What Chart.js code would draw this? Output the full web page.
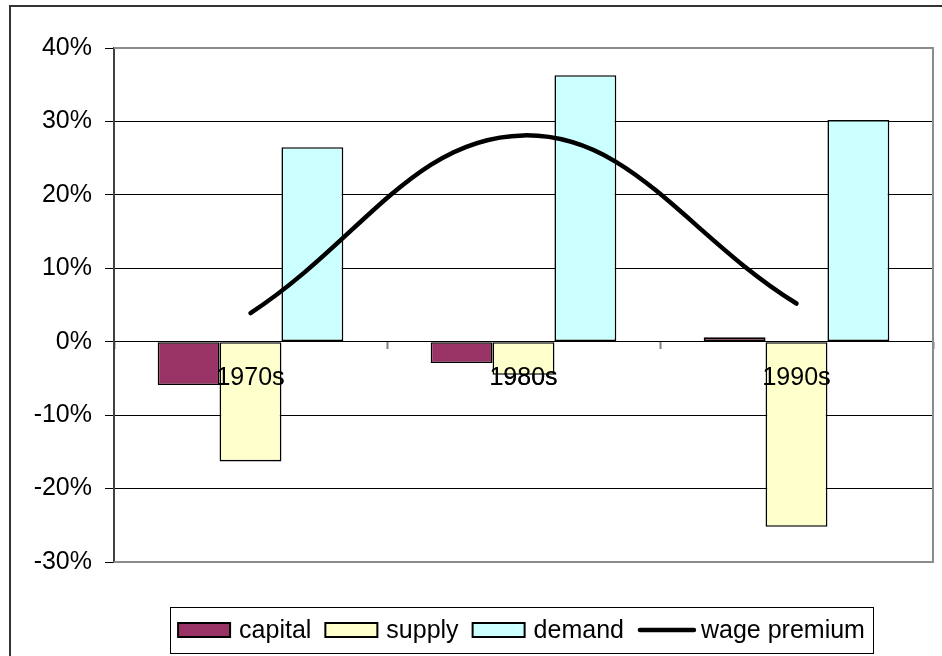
<!DOCTYPE html>
<html>
<head>
<meta charset="utf-8">
<script src="https://cdn.jsdelivr.net/npm/chart.js@4/dist/chart.umd.min.js"></script>
<style>
  html, body { margin: 0; padding: 0; background: #fff; }
  canvas { display: block; }
</style>
</head>
<body>
<canvas id="chart" width="942" height="656"></canvas>
<script>
// values, in percent
const categories = ['1970s', '1980s', '1990s'];
const capital = [-5.9, -2.9, 0.6];
const supply = [-16.3, -4.5, -25.2];
const demand = [26.5, 36.3, 30.2];
const wagePremium = [3.9, 28.1, 5.2];
const yMin = -30, yMax = 40, yStep = 10;

const FONT = '"Liberation Sans", Arial, sans-serif';

// frame around the plot area (top/right/bottom gray) and outer chart border
const framePlugin = {
  id: 'frame',
  beforeDatasetsDraw(chart) {
    const { ctx, chartArea: a } = chart;
    ctx.save();
    ctx.strokeStyle = '#8c8c8c';
    ctx.lineWidth = 2;
    ctx.beginPath();
    ctx.moveTo(a.left, a.top);
    ctx.lineTo(a.right, a.top);
    ctx.lineTo(a.right, a.bottom);
    ctx.lineTo(a.left, a.bottom);
    ctx.stroke();
    ctx.restore();
  },
  // category labels sit on top of the bars in the original
  afterDatasetsDraw(chart) {
    chart.scales.x.drawLabels(chart.chartArea);
  },
  afterDraw(chart) {
    const { ctx } = chart;
    ctx.save();
    ctx.strokeStyle = '#333';
    ctx.lineWidth = 2;
    ctx.strokeRect(10, 6, chart.width + 20, chart.height + 20);
    ctx.restore();
  }
};

// boxed legend below the plot, centred on the plot area
const boxLegend = {
  id: 'boxLegend',
  afterDraw(chart) {
    const { ctx, chartArea: a } = chart;
    const sets = chart.data.datasets;
    ctx.save();
    ctx.font = '25px ' + FONT;
    const items = sets.map(ds => ({
      ds,
      sw: ds.type === 'line' ? 58 : 52,
      gap: ds.type === 'line' ? 5 : 9,
      tw: ctx.measureText(ds.label).width
    }));
    const between = 14;
    const total = items.reduce((s, it) => s + it.sw + it.gap + it.tw, 0) + between * (items.length - 1);
    const cx = (a.left + a.right) / 2 - 2;
    const cy = a.bottom + 68;
    const padX = 8, h = 46;
    ctx.strokeStyle = '#000';
    ctx.lineWidth = 1;
    ctx.strokeRect(Math.round(cx - total / 2 - padX) + 0.5, Math.round(cy - h / 2) + 0.5, Math.round(total + 2 * padX), h);

    let x = cx - total / 2;
    ctx.textBaseline = 'middle';
    ctx.textAlign = 'left';
    items.forEach(it => {
      const ds = it.ds;
      if (ds.type === 'line') {
        ctx.strokeStyle = ds.borderColor;
        ctx.lineWidth = ds.borderWidth;
        ctx.lineCap = 'round';
        ctx.beginPath();
        ctx.moveTo(x + 2, cy);
        ctx.lineTo(x + it.sw - 2, cy);
        ctx.stroke();
      } else {
        ctx.fillStyle = ds.backgroundColor;
        ctx.fillRect(x, cy - 7, it.sw, 14);
        ctx.strokeStyle = '#000';
        ctx.lineWidth = 2;
        ctx.strokeRect(x, cy - 7, it.sw, 14);
      }
      x += it.sw + it.gap;
      ctx.fillStyle = '#000';
      ctx.fillText(ds.label, x, cy + 1);
      x += it.tw + between;
    });
    ctx.restore();
  }
};

const barStyle = { borderColor: '#000', borderWidth: 1.6, borderSkipped: false, order: 1 };

new Chart(document.getElementById('chart'), {
  type: 'bar',
  data: {
    labels: categories,
    datasets: [
      { label: 'capital', data: capital, backgroundColor: '#993366', ...barStyle },
      { label: 'supply', data: supply, backgroundColor: '#FFFFCC', ...barStyle },
      { label: 'demand', data: demand, backgroundColor: '#CCFFFF', ...barStyle },
      {
        type: 'line', label: 'wage premium', data: wagePremium,
        borderColor: '#000', borderWidth: 4.5, borderCapStyle: 'round', borderJoinStyle: 'round',
        tension: 0.4, pointRadius: 0, fill: false, order: 0
      }
    ]
  },
  options: {
    responsive: false,
    animation: false,
    devicePixelRatio: 1,
    categoryPercentage: 0.68,
    barPercentage: 1,
    layout: { padding: { left: 0, top: 48, right: 9, bottom: 94 } },
    plugins: { legend: { display: false }, tooltip: { enabled: false } },
    scales: {
      x: {
        position: { y: 0 },
        offset: true,
        grid: { display: true, offset: true, drawOnChartArea: false, tickLength: 7, tickColor: '#808080', tickWidth: 2 },
        border: { display: true, color: '#000', width: 1 },
        ticks: { color: '#000', font: { family: FONT, size: 25 }, padding: 14, maxRotation: 0 }
      },
      y: {
        min: yMin, max: yMax,
        afterFit(scale) { scale.width = 114; },
        grid: { color: '#000', lineWidth: 1, tickLength: 9, tickColor: '#000' },
        border: { display: true, color: '#404040', width: 2 },
        ticks: {
          stepSize: yStep, color: '#000', padding: 13,
          font: { family: FONT, size: 25 },
          callback: v => v + '%'
        }
      }
    }
  },
  plugins: [framePlugin, boxLegend]
});
</script>
</body>
</html>
